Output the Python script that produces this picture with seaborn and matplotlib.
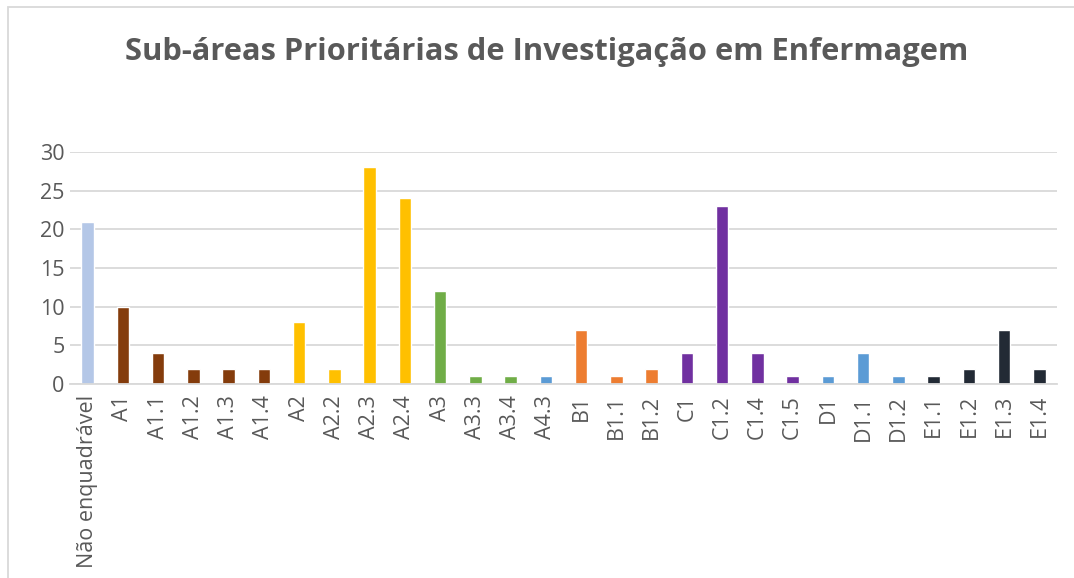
import matplotlib
matplotlib.use("Agg")
import matplotlib.pyplot as plt
import seaborn as sns
import pandas as pd
from matplotlib.patches import Rectangle

categories = ["Não enquadrável", "A1", "A1.1", "A1.2", "A1.3", "A1.4", "A2", "A2.2", "A2.3", "A2.4",
              "A3", "A3.3", "A3.4", "A4.3", "B1", "B1.1", "B1.2", "C1", "C1.2", "C1.4", "C1.5",
              "D1", "D1.1", "D1.2", "E1.1", "E1.2", "E1.3", "E1.4"]
values = [21, 10, 4, 2, 2, 2, 8, 2, 28, 24,
          12, 1, 1, 1, 7, 1, 2, 4, 23, 4, 1,
          1, 4, 1, 1, 2, 7, 2]
groups = ["N", "A1", "A1", "A1", "A1", "A1", "A2", "A2", "A2", "A2",
          "A3", "A3", "A3", "A4", "B", "B", "B", "C", "C", "C", "C",
          "D", "D", "D", "E", "E", "E", "E"]
group_colors = {"N": "#B4C7E7", "A1": "#843C0C", "A2": "#FFC000", "A3": "#70AD47",
                "A4": "#5B9BD5", "B": "#ED7D31", "C": "#7030A0", "D": "#5B9BD5", "E": "#222A35"}
title = "Sub-áreas Prioritárias de Investigação em Enfermagem"

sns.set_theme(style="white")
plt.rcParams['font.family'] = ['Open Sans', 'DejaVu Sans']

df = pd.DataFrame({"cat": categories, "val": values})
palette = [group_colors[g] for g in groups]

fig = plt.figure(figsize=(10.74, 5.78), dpi=100)
ax = fig.add_axes([0.0652, 0.3356, 0.919, 0.4014])
sns.barplot(data=df, x="cat", y="val", hue="cat", palette=palette, dodge=False,
            legend=False, width=0.35, ax=ax, saturation=1)

ax.set_ylim(0, 30)
ax.set_yticks(range(0, 31, 5))
ax.set_xlim(-0.5, len(categories) - 0.5)
ax.yaxis.grid(True, color="#D9D9D9", linewidth=1.3)
ax.set_axisbelow(True)
for s in ["top", "right", "left"]:
    ax.spines[s].set_visible(False)
ax.spines["bottom"].set_color("#D9D9D9")
ax.spines["bottom"].set_linewidth(1.3)
ax.set_xlabel("")
ax.set_ylabel("")
ax.tick_params(axis="both", length=0, colors="#595959", labelsize=15.5)
ax.tick_params(axis="y", pad=4)
plt.setp(ax.get_xticklabels(), rotation=90)
ax.tick_params(axis="x", pad=8)

fig.text(0.5089, 0.91, title, ha="center", va="center", fontsize=22.2,
         fontweight="bold", color="#595959")

fig.patches.append(Rectangle((8 / 1074, -0.01), 1.1, 1 - 7 / 578 + 0.01, transform=fig.transFigure,
                             fill=False, edgecolor="#D9D9D9", linewidth=1.3))

fig.savefig("out.png", dpi=100)
